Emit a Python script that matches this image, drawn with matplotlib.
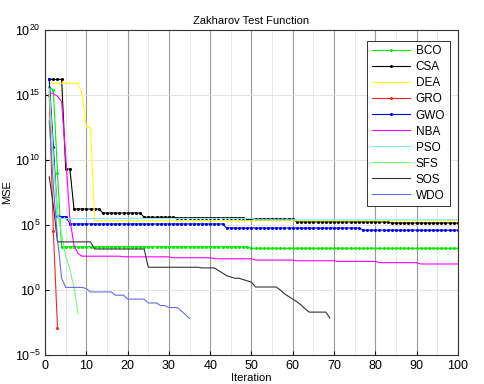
import numpy as np
import matplotlib
matplotlib.use('Agg')
import matplotlib.pyplot as plt
from matplotlib.ticker import FixedLocator, MultipleLocator

plt.rcParams['font.family'] = ['Liberation Sans', 'DejaVu Sans']


def runs(*pairs):
    # expand (log10 value, count) pairs
    out = []
    for v, n in pairs:
        out += [v] * n
    return np.array(out, dtype=float)


# log10(MSE) per iteration
bco = runs((15.6, 1), (15.4, 1), (9.0, 1), (3.33, 46), (3.2, 51))
csa = runs((16.2, 4), (9.3, 2), (6.23, 7), (5.92, 10), (5.6, 8), (5.55, 17),
           (5.45, 12), (5.23, 23), (5.15, 17))
dea = runs((15.9, 8), (15.0, 1), (12.5, 2), (5.33, 89))
gro = runs((15.0, 1), (4.5, 1), (-2.9, 1))
gwo = runs((16.2, 1), (11.0, 1), (5.7, 1), (5.65, 2), (5.08, 38), (4.77, 33), (4.6, 24))
nba = runs((15.2, 1), (15.1, 1), (14.9, 1), (14.5, 1), (10.2, 1), (5.5, 1), (3.4, 1), (2.8, 1),
           (2.6, 10), (2.55, 12), (2.48, 10), (2.4, 10), (2.3, 10), (2.25, 10),
           (2.2, 10), (2.1, 10), (2.0, 10))
pso = runs((15.5, 1), (10.0, 1), (5.5, 48), (5.4, 50))
sfs = runs((15.3, 1), (10.0, 1), (6.0, 1), (4.3, 1), (2.6, 1), (1.6, 1), (0.2, 1), (-1.8, 1))
sos = runs((8.7, 1), (6.5, 1), (3.7, 9), (3.15, 13), (1.75, 13), (1.7, 4),
           (1.5, 1), (1.3, 1), (1.1, 1), (1.0, 1), (0.9, 2), (0.8, 1), (0.7, 1), (0.6, 1),
           (0.23, 6), (0.0, 1), (-0.3, 1), (-0.5, 1), (-0.7, 1), (-0.9, 1), (-1.15, 1),
           (-1.45, 1), (-1.7, 5), (-2.15, 1))
wdo = runs((13.0, 1), (8.0, 1), (4.0, 1), (0.9, 1), (0.2, 5), (0.1, 1), (-0.15, 6),
           (-0.4, 3), (-0.7, 5), (-1.0, 3), (-1.2, 2), (-1.35, 3), (-1.6, 1), (-1.9, 1), (-2.2, 1))

names = ['BCO', 'CSA', 'DEA', 'GRO', 'GWO', 'NBA', 'PSO', 'SFS', 'SOS', 'WDO']
series = [bco, csa, dea, gro, gwo, nba, pso, sfs, sos, wdo]
colors = ['#00ee00', '#000000', '#ffff00', '#ff2020', '#0000ff', '#ff00ff',
          '#80e8ff', '#70ff70', '#333333', '#6a6ae0']
markers = ['.', '.', None, '.', '.', None, None, None, None, None]

fig = plt.figure(figsize=(4.85, 3.84), dpi=100)
ax = fig.add_axes([0.093, 0.0755, 0.851, 0.8465])

for name, s, c, m in zip(names, series, colors, markers):
    it = np.arange(1, len(s) + 1)
    ax.plot(it, 10.0 ** s, color=c, lw=0.8, marker=m, markersize=2.4, label=name)

ax.set_yscale('log')
ax.set_xlim(0, 100)
ax.set_ylim(1e-5, 1e20)
ax.set_xticks(np.arange(0, 101, 10))
ax.xaxis.set_minor_locator(MultipleLocator(5))
ax.yaxis.set_major_locator(FixedLocator([10.0 ** k for k in range(-5, 21, 5)]))
ax.yaxis.set_minor_locator(FixedLocator([]))
ax.grid(True, which='major', axis='x', color='#999999', lw=0.8)
ax.grid(True, which='minor', axis='x', color='#e4e4e4', lw=0.6)
ax.grid(True, which='major', axis='y', color='#e0e0e0', lw=0.6)
ax.tick_params(which='both', direction='in', labelsize=9, length=3)
ax.tick_params(which='minor', length=0)
for sp in ax.spines.values():
    sp.set_color('#333333')
    sp.set_linewidth(0.8)

ax.set_title('Zakharov Test Function', fontsize=8, pad=4)
ax.set_xlabel('Iteration', fontsize=8, labelpad=1)
ax.set_ylabel('MSE', fontsize=8, labelpad=2)

leg = ax.legend(loc='upper right', fontsize=8.5, handlelength=3.2, labelspacing=0.34,
                borderpad=0.4, handletextpad=0.5, fancybox=False, framealpha=1,
                edgecolor='#333333', bbox_to_anchor=(0.995, 0.985))
leg.get_frame().set_linewidth(0.7)

fig.savefig('out.png', dpi=100)
